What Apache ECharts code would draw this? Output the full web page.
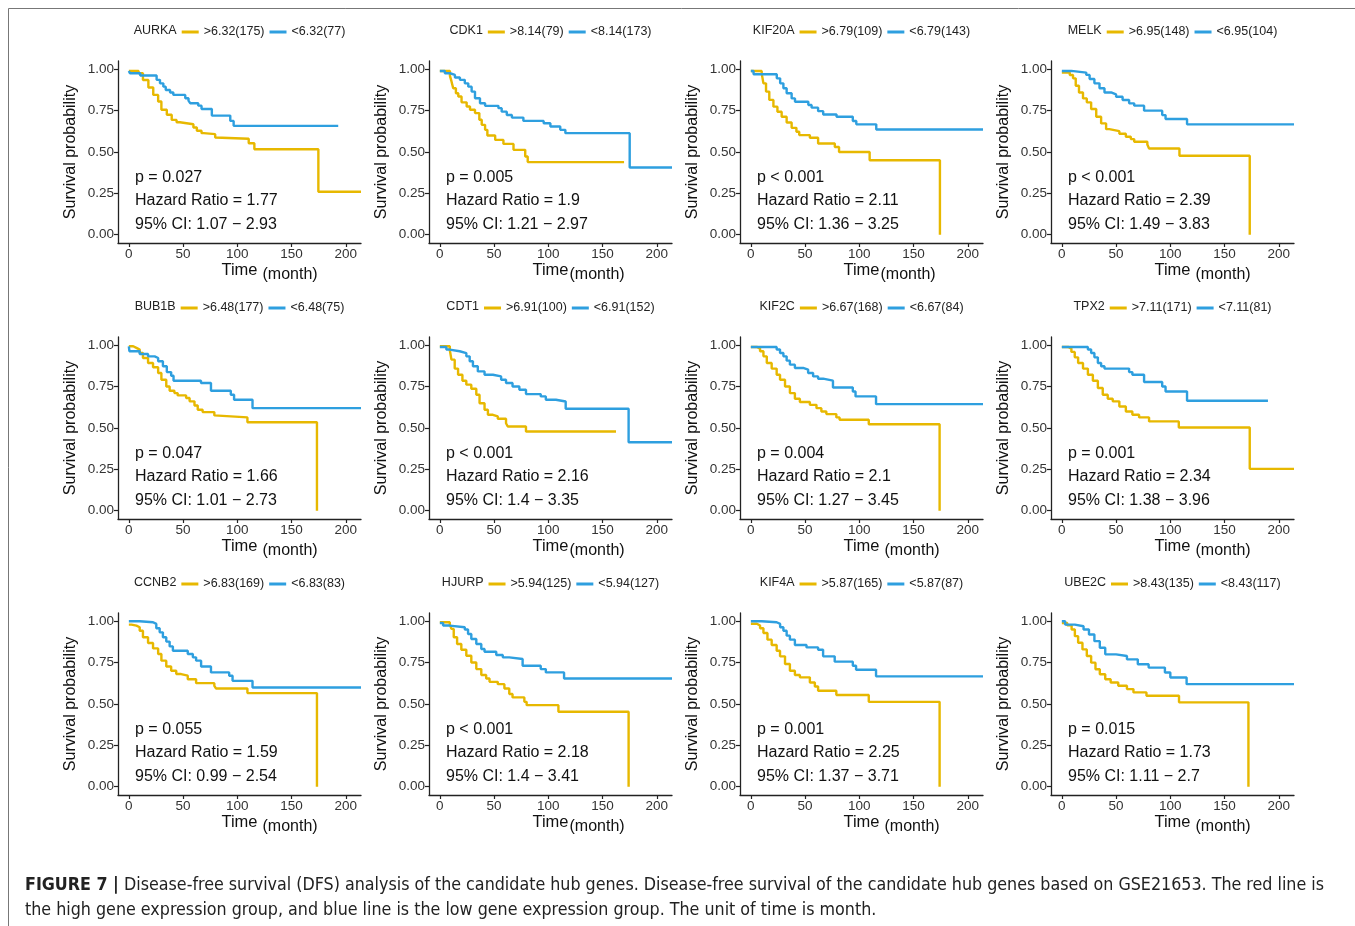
<!DOCTYPE html>
<html><head><meta charset="utf-8">
<script src="https://cdn.jsdelivr.net/npm/echarts@6/dist/echarts.min.js"></script>
<style>html,body{margin:0;padding:0;background:#fff}#c{width:1355px;height:926px}</style>
</head><body><div id="c"></div>
<script>
// ---------- DATA ----------
const genes = ['AURKA','CDK1','KIF20A','MELK','BUB1B','CDT1','KIF2C','TPX2','CCNB2','HJURP','KIF4A','UBE2C'];
const highGroup = ['>6.32(175)','>8.14(79)','>6.79(109)','>6.95(148)','>6.48(177)','>6.91(100)','>6.67(168)','>7.11(171)','>6.83(169)','>5.94(125)','>5.87(165)','>8.43(135)'];
const lowGroup = ['<6.32(77)','<8.14(173)','<6.79(143)','<6.95(104)','<6.48(75)','<6.91(152)','<6.67(84)','<7.11(81)','<6.83(83)','<5.94(127)','<5.87(87)','<8.43(117)'];
const pText = ['p = 0.027','p = 0.005','p < 0.001','p < 0.001','p = 0.047','p < 0.001','p = 0.004','p = 0.001','p = 0.055','p < 0.001','p = 0.001','p = 0.015'];
const hrText = ['Hazard Ratio = 1.77','Hazard Ratio = 1.9','Hazard Ratio = 2.11','Hazard Ratio = 2.39','Hazard Ratio = 1.66','Hazard Ratio = 2.16','Hazard Ratio = 2.1','Hazard Ratio = 2.34','Hazard Ratio = 1.59','Hazard Ratio = 2.18','Hazard Ratio = 2.25','Hazard Ratio = 1.73'];
const ciText = ['95% CI: 1.07 \u2212 2.93','95% CI: 1.21 \u2212 2.97','95% CI: 1.36 \u2212 3.25','95% CI: 1.49 \u2212 3.83','95% CI: 1.01 \u2212 2.73','95% CI: 1.4 \u2212 3.35','95% CI: 1.27 \u2212 3.45','95% CI: 1.38 \u2212 3.96','95% CI: 0.99 \u2212 2.54','95% CI: 1.4 \u2212 3.41','95% CI: 1.37 \u2212 3.71','95% CI: 1.11 \u2212 2.7'];
const timeNameGap = [' ','','',' ',' ','',' ',' ',' ','',' ',' '];
const xTicks = [0, 50, 100, 150, 200];
const yTicks = [0, 0.25, 0.5, 0.75, 1];
const yAxisTitle = 'Survival probability';
const xAxisTitle = 'Time';
const xAxisUnit = '(month)';
const captionLine1Bold = 'FIGURE 7 |';
const captionLine1 = ' Disease-free survival (DFS) analysis of the candidate hub genes. Disease-free survival of the candidate hub genes based on GSE21653. The red line is';
const captionLine2 = 'the high gene expression group, and blue line is the low gene expression group. The unit of time is month.';

// survival curves: [time (month), survival probability]
const AURKA_high = [[0,0.99],[9,0.976],[13,0.935],[18,0.89],[22.5,0.845],[27,0.805],[30,0.755],[35,0.725],[39.5,0.694],[44,0.68],[47,0.668],[59.5,0.648],[62.7,0.628],[67,0.614],[69,0.608],[79.6,0.588],[81,0.58],[110.5,0.553],[115.7,0.517],[174.7,0.26],[214,0.26]];
const AURKA_low = [[0,0.99],[1,0.976],[10.5,0.962],[25.6,0.936],[28.7,0.915],[31.8,0.895],[34,0.875],[38,0.86],[41,0.845],[52,0.825],[55,0.81],[56.5,0.795],[64,0.78],[67,0.76],[76.5,0.72],[93.5,0.688],[96.6,0.658],[193,0.658]];
const CDK1_high = [[0,0.99],[9.3,0.96],[10.8,0.925],[12.3,0.885],[14.8,0.855],[17,0.835],[20,0.8],[24.7,0.775],[27.8,0.755],[32.4,0.735],[36.4,0.695],[38.6,0.664],[41.7,0.634],[43.8,0.6],[51,0.573],[58.6,0.549],[67.9,0.513],[78.7,0.473],[81,0.439],[169.8,0.439]];
const CDK1_low = [[0,0.99],[4.6,0.976],[9.3,0.966],[13.9,0.95],[18.5,0.936],[23,0.915],[26.2,0.895],[29.3,0.865],[32.4,0.825],[37,0.795],[41.7,0.779],[54,0.765],[57,0.744],[61.7,0.724],[66.4,0.708],[77,0.688],[95.7,0.674],[101.9,0.654],[111,0.634],[115.7,0.614],[175,0.406],[214,0.406]];
const KIF20A_high = [[0,0.99],[10,0.975],[11.6,0.915],[14,0.865],[17,0.815],[20.8,0.774],[24.5,0.743],[28.4,0.713],[33,0.678],[37.6,0.646],[42,0.622],[44.6,0.602],[54.4,0.586],[62,0.551],[77.4,0.53],[81.3,0.5],[109.5,0.45],[174.3,0]];
const KIF20A_low = [[0,0.99],[2.5,0.97],[23.9,0.945],[27,0.915],[30,0.885],[33,0.855],[37.6,0.824],[40.7,0.804],[53,0.784],[56,0.768],[62,0.747],[66.7,0.727],[79,0.713],[94,0.687],[97.2,0.667],[115.6,0.636],[214,0.636]];
const MELK_high = [[0,0.98],[7.3,0.965],[10.3,0.945],[12.8,0.9],[15.8,0.86],[19.5,0.824],[23,0.8],[27,0.76],[31.7,0.713],[36.2,0.673],[40.8,0.638],[43.8,0.626],[53,0.61],[59,0.592],[63.6,0.578],[66.7,0.562],[78.8,0.545],[80.4,0.521],[108.4,0.477],[173.2,0]];
const MELK_low = [[0,0.99],[8.8,0.98],[22.5,0.966],[25.6,0.941],[30,0.915],[34.7,0.885],[39.3,0.86],[45.4,0.848],[50,0.834],[56,0.814],[62,0.794],[66.7,0.78],[75.8,0.75],[92.5,0.723],[95.6,0.699],[115.4,0.667],[214,0.667]];
const BUB1B_high = [[0,0.994],[4,0.984],[7,0.974],[10,0.953],[13,0.923],[17.7,0.893],[22.3,0.867],[27,0.832],[30,0.792],[34.5,0.751],[37.6,0.725],[42,0.711],[45,0.697],[52.8,0.681],[56,0.661],[60.5,0.636],[63.5,0.61],[68,0.596],[78.8,0.576],[80.3,0.564],[109.3,0.535],[173.4,0]];
const BUB1B_low = [[0,0.994],[0.5,0.964],[10,0.947],[17.7,0.933],[23.8,0.923],[27,0.903],[31.4,0.873],[35,0.838],[39,0.816],[41.2,0.786],[66.5,0.772],[75.7,0.725],[94,0.701],[97,0.671],[114,0.62],[214,0.62]];
const CDT1_high = [[0,0.994],[9.2,0.97],[10.7,0.913],[13.7,0.859],[16.8,0.822],[20.8,0.786],[24.4,0.762],[29,0.737],[33.6,0.701],[36.6,0.65],[41.2,0.61],[44.3,0.58],[48.9,0.57],[53.4,0.556],[61,0.529],[62.6,0.509],[79.4,0.479],[162.4,0.479]];
const CDT1_low = [[0,0.99],[6,0.974],[9,0.964],[18.3,0.953],[24.4,0.933],[27.5,0.903],[30.5,0.873],[35,0.842],[41.2,0.822],[48.9,0.812],[56.5,0.792],[61,0.772],[67,0.751],[73.3,0.731],[79.4,0.705],[93,0.691],[97.7,0.671],[107,0.66],[116,0.616],[174,0.414],[214,0.414]];
const KIF2C_high = [[0,0.99],[5.5,0.98],[8.5,0.964],[11.6,0.933],[14.7,0.893],[19.2,0.859],[23.8,0.822],[26.9,0.792],[31.5,0.751],[36,0.711],[40.6,0.677],[45.2,0.657],[54.4,0.64],[60.5,0.62],[65,0.6],[69.6,0.584],[78.8,0.564],[81.8,0.55],[108.7,0.523],[174,0]];
const KIF2C_low = [[0,0.99],[23.8,0.974],[26.9,0.953],[30,0.933],[33,0.907],[36,0.883],[40.6,0.863],[48.2,0.853],[52.8,0.832],[57.4,0.812],[62,0.798],[66.6,0.786],[75.7,0.745],[94,0.721],[96.5,0.691],[115.4,0.644],[214,0.644]];
const TPX2_high = [[0,0.99],[5.8,0.98],[8.8,0.96],[11.9,0.927],[15,0.893],[19.5,0.859],[24,0.822],[28.6,0.786],[33.2,0.742],[37.7,0.701],[42.3,0.677],[46.9,0.661],[53,0.63],[59,0.6],[65,0.58],[71.2,0.564],[80.4,0.54],[107.8,0.503],[173.2,0.253],[214,0.253]];
const TPX2_low = [[0,0.99],[24,0.974],[27,0.953],[30,0.927],[33.2,0.893],[36.2,0.873],[39.3,0.859],[62,0.838],[65,0.822],[75.8,0.778],[92.5,0.751],[95.6,0.721],[115.4,0.665],[190,0.665]];
const CCNB2_high = [[0,0.98],[2.4,0.974],[7,0.964],[10,0.943],[13,0.903],[17.7,0.869],[22.3,0.836],[27,0.802],[30,0.762],[34.5,0.727],[39,0.701],[43.7,0.681],[48.2,0.671],[54.3,0.65],[62,0.626],[78.8,0.61],[80.3,0.594],[109.3,0.566],[173.4,0]];
const CCNB2_low = [[0,1],[10,0.994],[22.3,0.984],[25.3,0.958],[28.4,0.933],[31.4,0.903],[34.5,0.877],[37.6,0.848],[40.6,0.822],[54.3,0.802],[59,0.782],[62,0.762],[66.6,0.727],[75.7,0.691],[92.5,0.671],[95.6,0.64],[114,0.6],[214,0.6]];
const HJURP_high = [[0,0.994],[9.2,0.98],[10.7,0.954],[12.8,0.903],[15.9,0.863],[19.8,0.828],[24.4,0.792],[29,0.751],[33.6,0.711],[38.2,0.675],[42.7,0.654],[45.8,0.634],[53.4,0.62],[59.5,0.594],[64,0.56],[67,0.54],[77.9,0.513],[80,0.493],[109.3,0.453],[174,0]];
const HJURP_low = [[0,0.99],[3,0.974],[9,0.964],[23,0.95],[26,0.923],[29,0.893],[33.6,0.863],[38.2,0.832],[41.2,0.816],[52,0.796],[58,0.782],[64,0.772],[76.3,0.731],[93,0.711],[97.7,0.691],[114.5,0.654],[214,0.654]];
const KIF4A_high = [[0,0.985],[5.5,0.974],[8.5,0.958],[11.6,0.929],[15.3,0.889],[19.2,0.857],[23.8,0.822],[26.9,0.788],[31.5,0.742],[36,0.701],[40.6,0.675],[45.2,0.661],[54.4,0.63],[59,0.606],[62,0.58],[78.8,0.554],[108.7,0.513],[174,0]];
const KIF4A_low = [[0,1],[10,0.994],[23.8,0.984],[27,0.964],[30,0.943],[33,0.913],[36,0.889],[40.6,0.857],[51.3,0.842],[62,0.828],[66.6,0.788],[77.3,0.756],[94,0.731],[97,0.707],[115.4,0.667],[214,0.667]];
const UBE2C_high = [[0,0.99],[5,0.975],[9,0.95],[12,0.91],[15,0.87],[19,0.83],[23,0.79],[27,0.75],[31,0.71],[35,0.68],[40,0.65],[45,0.63],[52,0.61],[60,0.59],[66,0.57],[78,0.55],[108,0.51],[172,0]];
const UBE2C_low = [[0,1],[3,0.98],[12,0.97],[20,0.95],[25,0.92],[30,0.88],[35,0.84],[40,0.8],[50,0.79],[60,0.77],[70,0.74],[80,0.72],[95,0.69],[100,0.66],[115,0.62],[214,0.62]];

const highCurves = [AURKA_high, CDK1_high, KIF20A_high, MELK_high, BUB1B_high, CDT1_high, KIF2C_high, TPX2_high, CCNB2_high, HJURP_high, KIF4A_high, UBE2C_high];
const lowCurves = [AURKA_low, CDK1_low, KIF20A_low, MELK_low, BUB1B_low, CDT1_low, KIF2C_low, TPX2_low, CCNB2_low, HJURP_low, KIF4A_low, UBE2C_low];

// ---------- LAYOUT / STYLE ----------
const FONT = '"Liberation Sans", Arial, Helvetica, sans-serif';
const HIGH_COLOR = '#E7B800', LOW_COLOR = '#2E9FDF';
const lefts = [118, 429, 740, 1051], tops = [61, 337, 613], W = 243, H = 182;
const ctx = document.createElement('canvas').getContext('2d');
function tw(s, size, fam, weight) { ctx.font = (weight || 'normal') + ' ' + size + 'px ' + (fam || FONT); return ctx.measureText(s).width; }
function hasFont(name) {
  const t = 'abcdefghijklmnopqrstuvwxyz0123456789';
  return tw(t, 20, '"' + name + '", monospace') !== tw(t, 20, 'monospace') || tw(t, 20, '"' + name + '", serif') !== tw(t, 20, 'serif');
}

const grid = [], xAxis = [], yAxis = [], series = [], legend = [], title = [], graphic = [];
for (let i = 0; i < 12; i++) {
  const L = lefts[i % 4], T = tops[Math.floor(i / 4)];
  grid.push({ left: L, top: T, width: W, height: H, outerBoundsMode: 'none', containLabel: false });
  xAxis.push({
    type: 'value', gridIndex: i, min: -10, max: 214,
    name: xAxisTitle, nameLocation: 'middle', nameGap: 19,
    nameTextStyle: { fontSize: 16.5, color: '#111', fontFamily: FONT },
    axisLine: { show: true, onZero: false, lineStyle: { color: '#222', width: 1.3 } },
    axisTick: { show: true, length: 4, customValues: xTicks, lineStyle: { color: '#222', width: 1.2 } },
    axisLabel: { customValues: xTicks, fontSize: 13.5, color: '#333', margin: 4, fontFamily: FONT },
    splitLine: { show: false }
  });
  yAxis.push({
    type: 'value', gridIndex: i, min: -0.05, max: 1.05,
    name: yAxisTitle, nameLocation: 'middle', nameGap: 39,
    nameTextStyle: { fontSize: 16, color: '#111', fontFamily: FONT },
    axisLine: { show: true, onZero: false, lineStyle: { color: '#222', width: 1.3 } },
    axisTick: { show: true, length: 4, customValues: yTicks, lineStyle: { color: '#222', width: 1.2 } },
    axisLabel: { customValues: yTicks, fontSize: 13.5, color: '#333', margin: 4, fontFamily: FONT, formatter: v => v.toFixed(2) },
    splitLine: { show: false }
  });
  const common = { type: 'line', xAxisIndex: i, yAxisIndex: i, step: 'end', symbol: 'none', showSymbol: false, animation: false, silent: true };
  series.push(Object.assign({}, common, { name: highGroup[i], data: highCurves[i], lineStyle: { color: HIGH_COLOR, width: 2.4 }, itemStyle: { color: HIGH_COLOR } }));
  series.push(Object.assign({}, common, { name: lowGroup[i], data: lowCurves[i], lineStyle: { color: LOW_COLOR, width: 2.4 }, itemStyle: { color: LOW_COLOR } }));

  // legend row: gene name + two items, centred over the panel
  const fs = 12.5, iw = 17, gapIT = 5, gapItems = 5;
  const w1 = iw + gapIT + tw(highGroup[i], fs), w2 = iw + gapIT + tw(lowGroup[i], fs);
  const gW = tw(genes[i], fs);
  const total = gW + 5 + w1 + gapItems + w2;
  const start = L + W / 2 - total / 2;
  title.push({ text: genes[i], left: start, top: T - 37, padding: 0, textStyle: { fontSize: fs, fontWeight: 'normal', color: '#222', fontFamily: FONT } });
  legend.push({
    data: [highGroup[i], lowGroup[i]], left: start + gW + 5, top: T - 36, padding: 0, orient: 'horizontal',
    icon: 'rect', itemWidth: iw, itemHeight: 3, itemGap: gapItems, selectedMode: false,
    textStyle: { fontSize: fs, color: '#222', fontFamily: FONT, lineHeight: 14 }
  });

  // annotations
  [[pText[i], 117], [hrText[i], 140], [ciText[i], 164]].forEach(([t, dy]) => {
    graphic.push({ type: 'text', x: L + 17, y: T + dy, silent: true, style: { text: t, fontSize: 16, fontFamily: FONT, fill: '#111', verticalAlign: 'middle', align: 'left' } });
  });
  const timeW = tw(xAxisTitle, 16.5);
  graphic.push({ type: 'text', x: L + W / 2 + timeW / 2 + (timeNameGap[i] ? 5 : 1), y: T + H + 32, silent: true,
    style: { text: xAxisUnit, fontSize: 16, fontFamily: FONT, fill: '#111', verticalAlign: 'middle', align: 'left' } });
}

// frame lines
graphic.push({ type: 'line', silent: true, shape: { x1: 8.5, y1: 8.5, x2: 1355, y2: 8.5 }, style: { stroke: '#777', lineWidth: 1 } });
graphic.push({ type: 'line', silent: true, shape: { x1: 8.5, y1: 8.5, x2: 8.5, y2: 926 }, style: { stroke: '#777', lineWidth: 1 } });

// caption
let capFam = FONT;
if (hasFont('Liberation Sans Narrow')) capFam = '"Liberation Sans Narrow", ' + FONT;
else if (hasFont('DejaVu Sans Condensed')) capFam = '"DejaVu Sans Condensed", ' + FONT;
let capSize = 17 * 1300 / (tw(captionLine1Bold, 17, capFam, 'bold') + tw(captionLine1, 17, capFam));
capSize = Math.max(12, Math.min(19, capSize));
graphic.push({ type: 'text', x: 25, y: 885, silent: true, style: {
  text: '{b|' + captionLine1Bold + '}{r|' + captionLine1 + '}', verticalAlign: 'middle', align: 'left',
  rich: { b: { fontSize: capSize, fontWeight: 'bold', fontFamily: capFam, fill: '#222' }, r: { fontSize: capSize, fontFamily: capFam, fill: '#222' } } } });
graphic.push({ type: 'text', x: 25, y: 910, silent: true, style: { text: captionLine2, fontSize: capSize, fontFamily: capFam, fill: '#222', verticalAlign: 'middle', align: 'left' } });

const chart = echarts.init(document.getElementById('c'), null, { renderer: 'canvas' });
chart.setOption({ backgroundColor: '#fff', animation: false, textStyle: { fontFamily: FONT }, grid, xAxis, yAxis, series, legend, title, graphic });
</script></body></html>
